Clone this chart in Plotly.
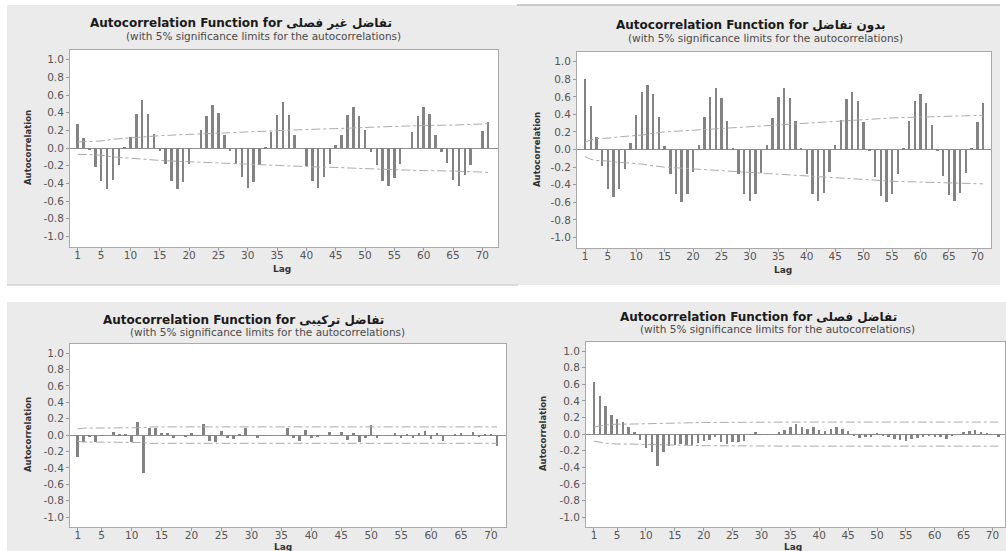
import plotly.graph_objects as go

W, H = 1006, 551

lags = list(range(1, 72))

# ACF values, lags 1..71
acf_nonseasonal = [0.27, 0.11, -0.02, -0.22, -0.37, -0.46, -0.36, -0.19, 0.01, 0.13,
                   0.39, 0.54, 0.39, 0.16, -0.03, -0.18, -0.37, -0.46, -0.38, -0.18,
                   0.00, 0.21, 0.36, 0.49, 0.40, 0.15, -0.03, -0.18, -0.33, -0.45,
                   -0.38, -0.19, 0.01, 0.18, 0.37, 0.52, 0.37, 0.15, 0.00, -0.20,
                   -0.37, -0.45, -0.33, -0.18, 0.04, 0.15, 0.37, 0.46, 0.36, 0.21,
                   -0.05, -0.19, -0.37, -0.43, -0.34, -0.18, 0.00, 0.18, 0.36, 0.46,
                   0.39, 0.15, -0.05, -0.17, -0.36, -0.43, -0.31, -0.19, 0.00, 0.19,
                   0.30]
acf_nodiff = [0.80, 0.49, 0.14, -0.19, -0.45, -0.54, -0.45, -0.22, 0.08, 0.39,
              0.65, 0.74, 0.63, 0.37, 0.04, -0.28, -0.51, -0.60, -0.51, -0.26,
              0.05, 0.37, 0.60, 0.70, 0.59, 0.33, 0.01, -0.28, -0.51, -0.59,
              -0.51, -0.27, 0.05, 0.36, 0.60, 0.70, 0.59, 0.33, 0.02, -0.28,
              -0.50, -0.59, -0.49, -0.25, 0.05, 0.34, 0.57, 0.65, 0.55, 0.31,
              -0.01, -0.31, -0.53, -0.60, -0.51, -0.28, 0.02, 0.32, 0.55, 0.63,
              0.53, 0.28, -0.01, -0.30, -0.52, -0.59, -0.49, -0.27, 0.02, 0.31,
              0.53]
acf_combined = [-0.27, -0.09, -0.02, -0.08, -0.01, 0.00, 0.04, 0.01, 0.01, -0.09,
                0.16, -0.46, 0.09, 0.09, 0.03, 0.03, -0.04, 0.00, -0.02, 0.02,
                -0.01, 0.13, -0.07, -0.09, 0.05, -0.04, -0.05, 0.01, 0.09, 0.00,
                -0.04, -0.01, 0.00, 0.00, 0.00, 0.09, -0.03, -0.07, 0.06, -0.03,
                -0.02, 0.00, 0.04, -0.01, 0.04, -0.06, 0.02, -0.08, -0.04, 0.12,
                -0.03, 0.00, -0.01, 0.02, -0.03, 0.01, -0.03, 0.02, 0.05, -0.05,
                0.03, -0.07, 0.00, 0.01, 0.02, -0.01, 0.04, -0.02, 0.01, 0.01,
                -0.13]
acf_seasonal = [0.63, 0.46, 0.34, 0.23, 0.18, 0.14, 0.09, 0.02, -0.07, -0.17,
                -0.21, -0.39, -0.22, -0.14, -0.13, -0.12, -0.13, -0.13, -0.11, -0.08,
                -0.07, -0.04, -0.10, -0.12, -0.10, -0.10, -0.08, -0.01, 0.02, -0.01,
                -0.01, 0.00, 0.02, 0.05, 0.08, 0.12, 0.08, 0.06, 0.08, 0.05,
                0.04, 0.06, 0.08, 0.06, 0.04, -0.02, -0.05, -0.04, -0.03, 0.01,
                -0.02, -0.04, -0.06, -0.07, -0.08, -0.06, -0.05, -0.03, -0.02, -0.04,
                -0.04, -0.06, -0.02, 0.00, 0.03, 0.04, 0.05, 0.03, 0.01, 0.00,
                -0.04]

# 5% significance limits (symmetric about zero) at selected lags
lim_lags_1 = [1, 3, 5, 7, 9, 11, 13, 15, 20, 25, 30, 35, 40, 45, 50, 55, 60, 65, 71]
lim_vals_1 = [0.07, 0.075, 0.08, 0.10, 0.11, 0.115, 0.13, 0.14, 0.155, 0.17, 0.18,
              0.195, 0.21, 0.22, 0.235, 0.245, 0.255, 0.26, 0.275]
lim_lags_2 = [1, 2, 3, 5, 7, 9, 11, 13, 15, 20, 25, 30, 35, 40, 45, 50, 55, 60, 65, 71]
lim_vals_2 = [0.08, 0.11, 0.125, 0.13, 0.145, 0.155, 0.165, 0.185, 0.2, 0.22, 0.24,
              0.265, 0.28, 0.305, 0.325, 0.345, 0.36, 0.37, 0.38, 0.39]
lim_lags_3 = [1, 2, 12, 13, 71]
lim_vals_3 = [0.075, 0.085, 0.09, 0.10, 0.10]
lim_lags_4 = [1, 2, 3, 4, 5, 7, 10, 13, 15, 20, 35, 71]
lim_vals_4 = [0.085, 0.10, 0.11, 0.115, 0.12, 0.12, 0.125, 0.135, 0.14, 0.14, 0.145, 0.145]

series_names = ["تفاضل غير فصلى", "بدون تفاضل", "تفاضل تركيبى", "تفاضل فصلى"]
title_prefix = "Autocorrelation Function for "
subtitle = "(with 5% significance limits for the autocorrelations)"

y_ticks = [-1.0, -0.8, -0.6, -0.4, -0.2, 0.0, 0.2, 0.4, 0.6, 0.8, 1.0]
x_ticks = [1, 5, 10, 15, 20, 25, 30, 35, 40, 45, 50, 55, 60, 65, 70]


def px_x(v):
    return v / W


def px_y(v):
    return 1 - v / H


# panel geometry in pixels
panels = [
    dict(acf=acf_nonseasonal, ll=lim_lags_1, lv=lim_vals_1, name=series_names[0],
         box=(70, 498, 50, 247), xr=[-0.31, 72.67],
         title=(241, 23), sub=(263, 36), lag=(282, 269), ylab=(28, 148)),
    dict(acf=acf_nodiff, ll=lim_lags_2, lv=lim_vals_2, name=series_names[1],
         box=(577, 991, 52, 248), xr=[-0.41, 72.4],
         title=(751, 25), sub=(765, 38), lag=(783, 270), ylab=(537, 150)),
    dict(acf=acf_combined, ll=lim_lags_3, lv=lim_vals_3, name=series_names[2],
         box=(70, 506, 344, 527), xr=[-0.29, 72.5],
         title=(243, 320), sub=(267, 332), lag=(283, 546.5), ylab=(28, 435)),
    dict(acf=acf_seasonal, ll=lim_lags_4, lv=lim_vals_4, name=series_names[3],
         box=(586, 1005, 342, 527), xr=[-0.38, 72.16],
         title=(758, 317), sub=(777, 329), lag=(793, 546.5), ylab=(543, 434)),
]

FONT = "DejaVu Sans"
BAR = "#838383"
LIMIT = "#ababab"
FRAME = "#a9a9a9"
PANEL_BG = "#ebebeb"

fig = go.Figure()
layout = dict(
    width=W, height=H,
    margin=dict(l=0, r=0, t=0, b=0),
    paper_bgcolor="white", plot_bgcolor="white",
    showlegend=False, bargap=0,
    font=dict(family=FONT, color="#4d4d4d"),
)
shapes = [
    # grey panel backgrounds
    dict(type="rect", xref="paper", yref="paper", layer="below",
         x0=px_x(7), x1=px_x(1000), y0=px_y(285), y1=px_y(5),
         fillcolor=PANEL_BG, line=dict(width=0)),
    dict(type="rect", xref="paper", yref="paper", layer="below",
         x0=px_x(7), x1=px_x(1006), y0=px_y(551), y1=px_y(302),
         fillcolor=PANEL_BG, line=dict(width=0)),
    dict(type="line", xref="paper", yref="paper", layer="below",
         x0=px_x(7), x1=px_x(518), y0=px_y(285), y1=px_y(285),
         line=dict(color="#d2d2d2", width=1.5)),
    dict(type="line", xref="paper", yref="paper", layer="below",
         x0=px_x(517), x1=px_x(1000), y0=px_y(5), y1=px_y(5),
         line=dict(color="#bdbdbd", width=1.5)),
]
annotations = []

for i, p in enumerate(panels, start=1):
    sfx = "" if i == 1 else str(i)
    xa, ya = "x" + sfx, "y" + sfx
    x0, x1, y0, y1 = p["box"]

    layout["xaxis" + sfx] = dict(
        domain=[px_x(x0), px_x(x1)], anchor=ya, range=p["xr"],
        tickmode="array", tickvals=x_ticks, ticks="outside", ticklen=3,
        tickcolor="#9a9a9a", tickfont=dict(size=10.5, color="#555555"),
        ticklabelstandoff=-5,
        showgrid=False, zeroline=False, showline=True, mirror=True,
        linecolor=FRAME, linewidth=1, fixedrange=True,
    )
    layout["yaxis" + sfx] = dict(
        domain=[px_y(y1), px_y(y0)], anchor=xa, range=[-1.12, 1.11],
        tickmode="array", tickvals=y_ticks,
        ticktext=[f"{v:.1f}" for v in y_ticks],
        ticks="outside", ticklen=3, tickcolor="#9a9a9a",
        tickfont=dict(size=10.5, color="#555555"),
        showgrid=False, zeroline=True, zerolinecolor="#8f8f8f", zerolinewidth=1,
        showline=True, mirror=True, linecolor=FRAME, linewidth=1, fixedrange=True,
    )

    # white plotting area on top of the grey panel
    shapes.append(dict(type="rect", xref=xa + " domain", yref=ya + " domain",
                       layer="below", x0=0, x1=1, y0=0, y1=1,
                       fillcolor="white", line=dict(width=0)))

    # significance limits
    fig.add_trace(go.Scatter(x=p["ll"], y=p["lv"], mode="lines", xaxis=xa, yaxis=ya,
                             line=dict(color=LIMIT, width=1, dash="dashdot"),
                             hoverinfo="skip"))
    fig.add_trace(go.Scatter(x=p["ll"], y=[-v for v in p["lv"]], mode="lines",
                             xaxis=xa, yaxis=ya,
                             line=dict(color=LIMIT, width=1, dash="dashdot"),
                             hoverinfo="skip"))
    # autocorrelation spikes
    fig.add_trace(go.Bar(x=lags, y=p["acf"], xaxis=xa, yaxis=ya, width=0.42,
                         marker=dict(color=BAR, line=dict(width=0))))

    tx, ty = p["title"]
    annotations.append(dict(
        xref="paper", yref="paper", x=px_x(tx), y=px_y(ty),
        xanchor="center", yanchor="middle", showarrow=False,
        text="<b>" + title_prefix + p["name"] + "</b>",
        font=dict(size=12, color="#1a1a1a", family=FONT)))
    sx, sy = p["sub"]
    annotations.append(dict(
        xref="paper", yref="paper", x=px_x(sx), y=px_y(sy),
        xanchor="center", yanchor="middle", showarrow=False,
        text=subtitle, font=dict(size=10.5, color="#4a4a4a", family=FONT)))
    lx, ly = p["lag"]
    annotations.append(dict(
        xref="paper", yref="paper", x=px_x(lx), y=px_y(ly),
        xanchor="center", yanchor="middle", showarrow=False,
        text="<b>Lag</b>", font=dict(size=9, color="#333333", family=FONT)))
    yx, yy = p["ylab"]
    annotations.append(dict(
        xref="paper", yref="paper", x=px_x(yx), y=px_y(yy),
        xanchor="center", yanchor="middle", showarrow=False, textangle=-90,
        text="<b>Autocorrelation</b>", font=dict(size=8.5, color="#333333", family=FONT)))

layout["shapes"] = shapes
layout["annotations"] = annotations
fig.update_layout(**layout)

fig.write_html("out.html")
